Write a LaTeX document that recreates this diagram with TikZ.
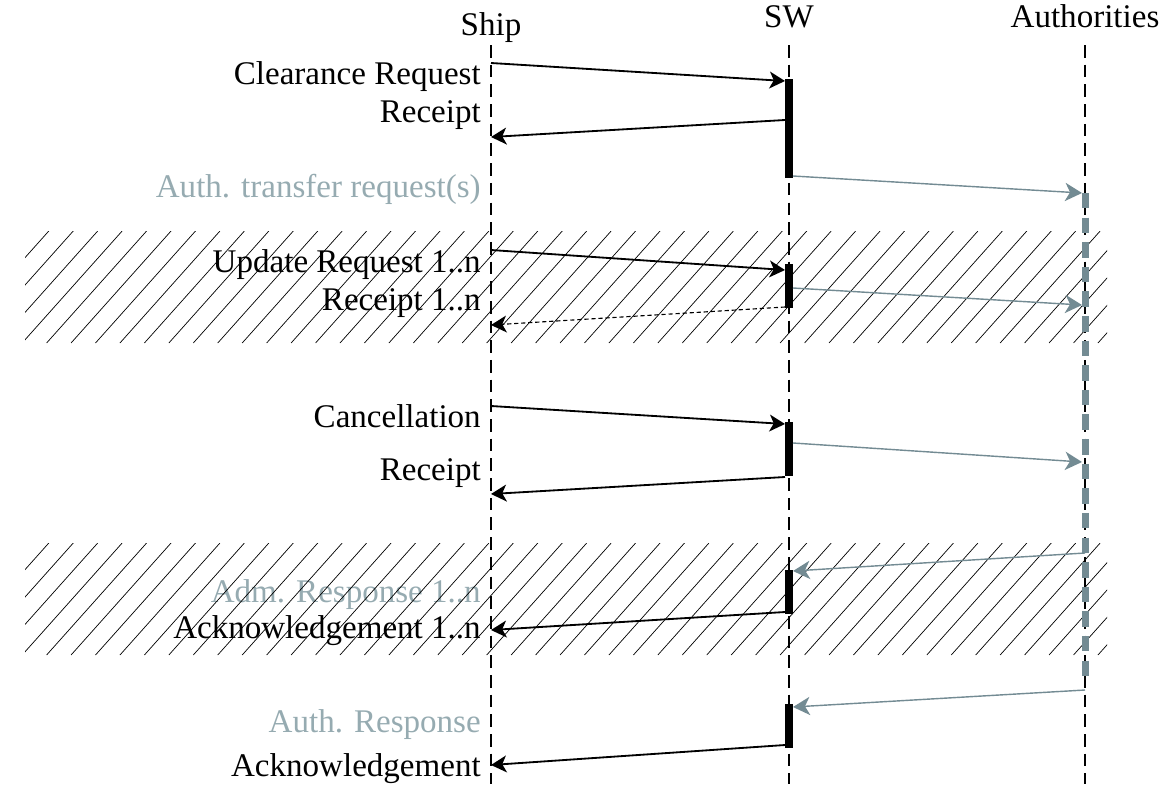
\documentclass[tikz,border=0pt]{standalone}
\usepackage{fontspec}
\setmainfont{Liberation Serif}
\usetikzlibrary{arrows.meta}
\definecolor{authline}{RGB}{115,139,147}
\definecolor{authtext}{RGB}{150,171,177}
\tikzset{
  lifeline/.style={line width=1pt, dash pattern=on 9pt off 5pt},
  msg/.style={line width=1.3pt, -{Stealth[length=11pt,width=12pt,inset=3pt]}},
  authmsg/.style={line width=1pt, authline, -{Stealth[length=12pt,width=13pt,inset=3.5pt]}},
  label/.style={anchor=base east, inner sep=0pt, font=\fontsize{23.5}{26}\selectfont},
  head/.style={anchor=base, inner sep=0pt, font=\fontsize{23.5}{26}\selectfont},
  bar/.style={fill=black, draw=none},
  hatch/.style={line width=0.5pt}
}
\begin{document}
\begin{tikzpicture}[x=0.025cm, y=-0.025cm]
    \useasboundingbox (0,0) rectangle (1168,784);
    % lifelines
    \node[head] (ship) at (491, 35) {Ship};
    \node[head] (sw) at (789, 27) {SW};
    \node[head] (auth) at (1085, 27) {Authorities};
    \coordinate (shipend) at (491, 784);
    \coordinate (swend) at (789, 784);
    \coordinate (authend) at (1085, 784);
    \draw[lifeline] (491, 45) -- (shipend);
    \draw[lifeline] (789, 45) -- (swend);
    \draw[lifeline] (1085, 45) -- (authend);
    % labels
    \node[label] (creq) at (481, 84) {Clearance Request};
    \node[label] (crec) at (481, 122) {Receipt};
    \node[label, authtext] (treq) at (481, 197) {Auth. transfer request(s)};
    \node[label] (ureq) at (481, 272) {Update Request 1..n};
    \node[label] (urec) at (481, 310) {Receipt 1..n};
    \node[label] (canc) at (481, 427) {Cancellation};
    \node[label] (cnrec) at (481, 480) {Receipt};
    \node[label, authtext] (adm) at (481, 602) {Adm. Response 1..n};
    \node[label] (ack1) at (481, 638) {Acknowledgement 1..n};
    \node[label, authtext] (aresp) at (481, 732) {Auth. Response};
    \node[label] (ack) at (481, 776) {Acknowledgement};
    % hatched bands
    \begin{scope}
        \clip (25, 231) rectangle (1107, 343);
        \foreach \x in {-100.1, -75.65, ..., 1110}
            \draw[hatch] (\x, 343) -- ++(100, -112);
    \end{scope}
    \begin{scope}
        \clip (25, 543) rectangle (1107, 655);
        \foreach \x in {-100.1, -75.65, ..., 1110}
            \draw[hatch] (\x, 655) -- ++(100, -112);
    \end{scope}
    % authorities activity
    \draw[authline, line width=4.5pt, dash pattern=on 11pt off 6.5pt] (1085.5, 193) -- (1085.5, 680);
    % activation bars
    \fill[bar] (785, 79) rectangle (793, 178);
    \fill[bar] (785, 264) rectangle (793, 308);
    \fill[bar] (785, 422) rectangle (793, 476);
    \fill[bar] (785, 570) rectangle (793, 614);
    \fill[bar] (785, 704) rectangle (793, 748);
    % message end points
    \coordinate (s1) at (491, 63);   \coordinate (w1) at (785, 81);
    \coordinate (w2) at (785, 120);  \coordinate (s2) at (491, 137);
    \coordinate (w3) at (793, 176);  \coordinate (a3) at (1082, 193);
    \coordinate (s4) at (491, 250);  \coordinate (w4) at (785, 270);
    \coordinate (w5) at (793, 288);  \coordinate (a5) at (1082, 305);
    \coordinate (w6) at (785, 307);  \coordinate (s6) at (491, 325);
    \coordinate (s7) at (491, 406);  \coordinate (w7) at (785, 424);
    \coordinate (w8) at (793, 443);  \coordinate (a8) at (1082, 462);
    \coordinate (w9) at (785, 477);  \coordinate (s9) at (491, 494);
    \coordinate (a10) at (1085, 553); \coordinate (w10) at (793, 571);
    \coordinate (w11) at (785, 612); \coordinate (s11) at (491, 630);
    \coordinate (a12) at (1085, 690); \coordinate (w12) at (793, 707);
    \coordinate (w13) at (785, 745); \coordinate (s13) at (491, 765);
    % messages
    \draw[msg] (s1) -- (w1);
    \draw[msg] (w2) -- (s2);
    \draw[authmsg] (w3) -- (a3);
    \draw[msg] (s4) -- (w4);
    \draw[authmsg] (w5) -- (a5);
    \draw[msg, line width=0.8pt, dash pattern=on 3pt off 2pt] (w6) -- (s6);
    \draw[msg] (s7) -- (w7);
    \draw[authmsg] (w8) -- (a8);
    \draw[msg] (w9) -- (s9);
    \draw[authmsg] (a10) -- (w10);
    \draw[msg] (w11) -- (s11);
    \draw[authmsg] (a12) -- (w12);
    \draw[msg] (w13) -- (s13);
\end{tikzpicture}
\end{document}
